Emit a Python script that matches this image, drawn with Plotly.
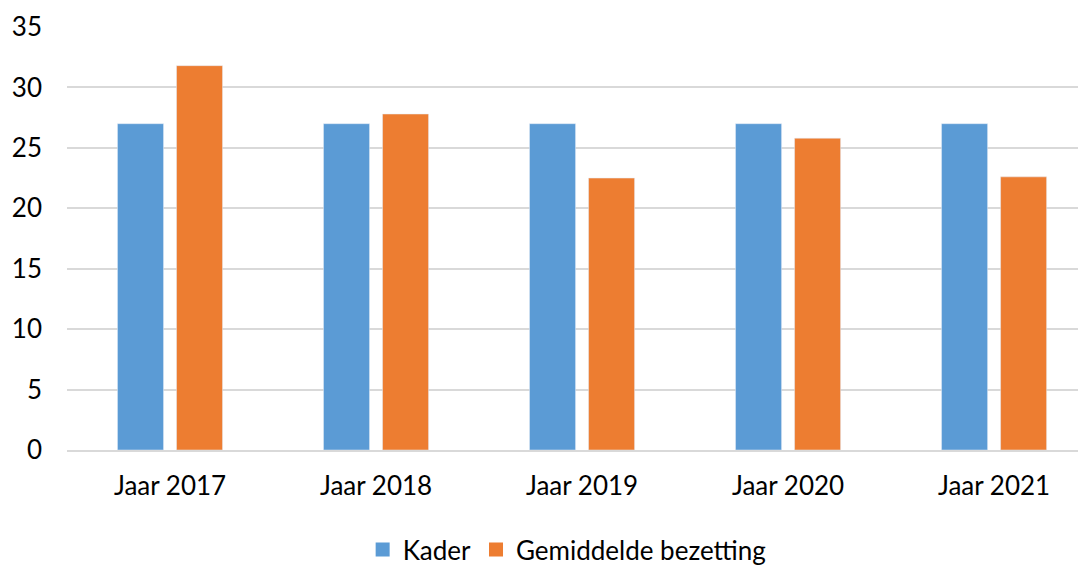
import plotly.graph_objects as go

categories = ["Jaar 2017", "Jaar 2018", "Jaar 2019", "Jaar 2020", "Jaar 2021"]
kader = [27, 27, 27, 27, 27]
bezetting = [31.8, 27.8, 22.5, 25.8, 22.6]
yticks = [0, 5, 10, 15, 20, 25, 30, 35]
series_names = ["Kader", "Gemiddelde bezetting"]
colors = ["#5B9BD5", "#ED7D31"]

FONT = "Lato"

fig = go.Figure()
for name, vals, col in zip(series_names, [kader, bezetting], colors):
    fig.add_trace(go.Bar(name=name, x=categories, y=vals, marker_color=col,
                         showlegend=False, legendgroup=name))
for name, col in zip(series_names, colors):
    fig.add_trace(go.Scatter(name=name, x=[None], y=[None], mode="markers",
                             marker=dict(symbol="square", size=14, color=col),
                             legendgroup=name, showlegend=True))

fig.update_layout(
    width=1086, height=565,
    margin=dict(l=59, r=0, t=19, b=123),
    paper_bgcolor="white", plot_bgcolor="white",
    barmode="group", bargap=0.427, bargroupgap=0.22,
    font=dict(family=FONT, size=26, color="#000000"),
    showlegend=True,
    legend=dict(orientation="h", x=0.487, xanchor="center", y=-0.236, yanchor="middle",
                font=dict(size=26), itemsizing="trace", itemwidth=30, traceorder="normal"),
    xaxis=dict(range=[-0.5, 4.485], showgrid=False, showline=True, linecolor="#D9D9D9",
               linewidth=1.5, ticks="", tickfont=dict(size=26), ticklabelstandoff=12),
    yaxis=dict(range=[0, 35], tickvals=yticks, showgrid=True, gridcolor="#D9D9D9",
               gridwidth=1.5, zeroline=False, showline=False, ticks="",
               tickfont=dict(size=26), ticklabelstandoff=24),
)

fig.write_html("out.html")
